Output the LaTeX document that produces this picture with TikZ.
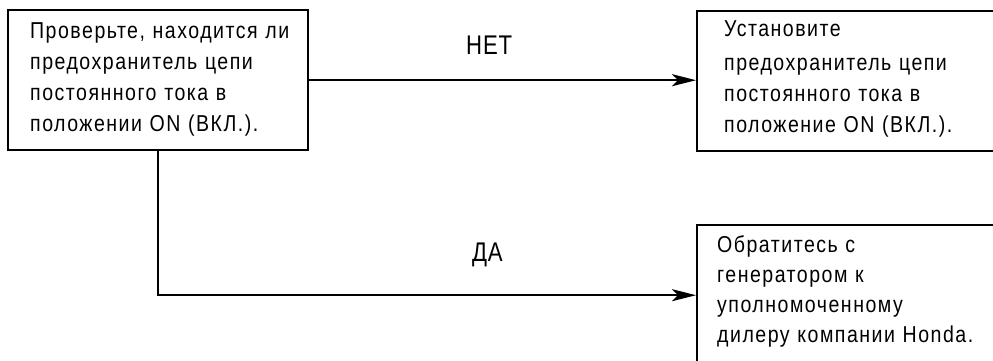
\documentclass[tikz,border=0pt]{standalone}
\usepackage{fontspec}
\setmainfont{Liberation Sans}[FakeStretch=0.85,LetterSpace=6.5]
\newfontfamily\lblfont{Liberation Sans}[FakeStretch=0.82,LetterSpace=3]
\usetikzlibrary{arrows.meta}
\setlength{\parindent}{0pt}
\begin{document}
\begin{tikzpicture}[x=1pt,y=1pt,
  box/.style={draw, line width=2.4pt, rectangle, anchor=north west, inner ysep=0pt, align=left},
  conn/.style={line width=2.4pt, -{Stealth[length=24pt,width=12pt,inset=6pt]}},
  lbl/.style={font=\lblfont\fontsize{27pt}{30pt}\selectfont, inner sep=0pt, anchor=base}]
\useasboundingbox (0,0) rectangle (993,-361);
\clip (0,0) rectangle (993,-361);
\node[box, inner xsep=22pt, text width=256pt, font=\fontsize{23pt}{31pt}\selectfont] (L) at (7,-9)
 {\mbox{\rule{0pt}{28pt}Проверьте, находится ли}\\
  \mbox{предохранитель цепи}\\
  \mbox{постоянного тока в}\\
  \mbox{положении ON (ВКЛ.).\rule[-19pt]{0pt}{19pt}}};
\node[box, inner xsep=27pt, text width=300pt, font=\fontsize{23pt}{31pt}\selectfont] (R1) at (696,-10)
 {\mbox{\rule{0pt}{25pt}Установите}\\[3pt]
  \mbox{предохранитель цепи}\\
  \mbox{постоянного тока в}\\
  \mbox{положение ON (ВКЛ.).\rule[-19pt]{0pt}{19pt}}};
\node[box, inner xsep=20pt, text width=300pt, font=\fontsize{23pt}{30pt}\selectfont] (R2) at (696,-224)
 {\mbox{\rule{0pt}{27pt}Обратитесь с}\\
  \mbox{генератором к}\\
  \mbox{уполномоченному}\\
  \mbox{дилеру компании Honda.\rule[-23pt]{0pt}{23pt}}};
\draw[conn] (L.east) -- node[lbl, pos=0.465, yshift=26pt] (no) {НЕТ} (L.east -| R1.west);
\draw[conn] (L.south) |- node[lbl, pos=0.806, yshift=34pt] (yes) {ДА} (R2.west);
\end{tikzpicture}
\end{document}
